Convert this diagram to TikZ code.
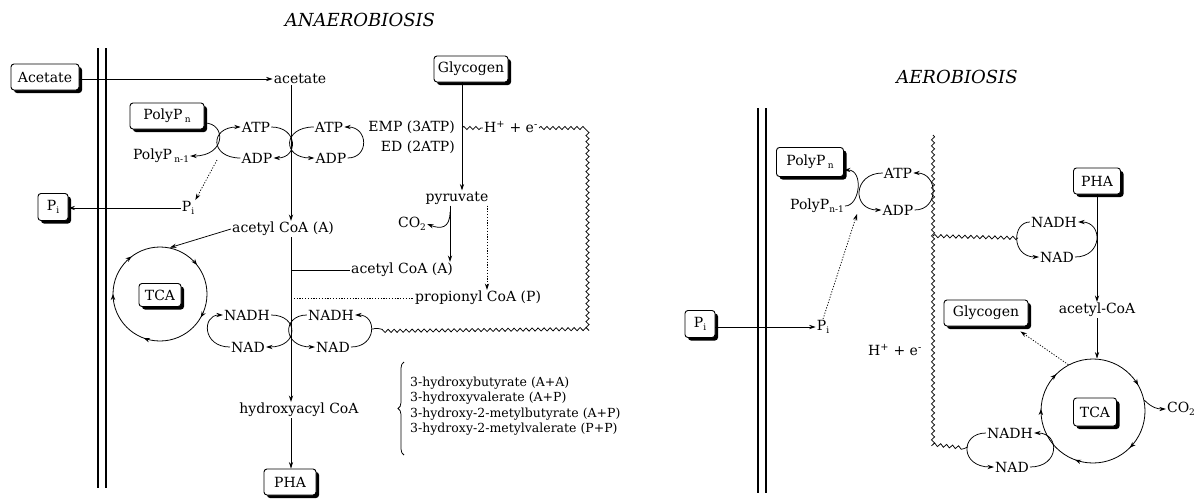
\documentclass[tikz,border=0pt]{standalone}
\usepackage{fontspec}
\setmainfont{DejaVu Serif}
\usetikzlibrary{arrows.meta,shadows,decorations.pathmorphing,decorations.pathreplacing,decorations.markings}
\newcommand{\sbs}[1]{\raisebox{-0.45ex}{\fontsize{9}{9}\selectfont #1}}
\begin{document}
\begin{tikzpicture}[x=1pt,y=-1pt,
  every node/.style={font=\fontsize{14}{16}\selectfont, inner sep=1pt},
  box/.style={draw, line width=0.9pt, rounded corners=3pt, fill=white, inner sep=2pt, minimum height=26pt,
    drop shadow={shadow xshift=3pt, shadow yshift=-3pt, fill=black, opacity=1}},
  ttl/.style={font=\fontsize{18}{20}\selectfont\itshape},
  ln/.style={line width=0.75pt},
  arr/.style={ln, -{Stealth[length=6.5pt,width=4.2pt]}},
  dotln/.style={ln, dash pattern=on 1.2pt off 1.6pt},
  dotarr/.style={arr, dash pattern=on 1.2pt off 1.6pt},
  wavy/.style={ln, decorate, decoration={snake, segment length=6pt, amplitude=1.6pt}},
  mem/.style={line width=2.6pt},
  ring/.style={circle, draw, line width=0.8pt, inner sep=0pt},
  ringA/.style={postaction={decorate, decoration={markings,
    mark=at position 0.106 with {\arrowreversed{Stealth[length=6pt,width=4.5pt]}},
    mark=at position 0.353 with {\arrowreversed{Stealth[length=6pt,width=4.5pt]}},
    mark=at position 0.5 with {\arrowreversed{Stealth[length=6pt,width=4.5pt]}},
    mark=at position 0.694 with {\arrowreversed{Stealth[length=6pt,width=4.5pt]}},
    mark=at position 0.917 with {\arrowreversed{Stealth[length=6pt,width=4.5pt]}}}}},
  ringB/.style={postaction={decorate, decoration={markings,
    mark=at position 0.083 with {\arrowreversed{Stealth[length=6pt,width=4.5pt]}},
    mark=at position 0.375 with {\arrowreversed{Stealth[length=6pt,width=4.5pt]}},
    mark=at position 0.494 with {\arrowreversed{Stealth[length=6pt,width=4.5pt]}},
    mark=at position 0.694 with {\arrowreversed{Stealth[length=6pt,width=4.5pt]}},
    mark=at position 0.875 with {\arrowreversed{Stealth[length=6pt,width=4.5pt]}}}}}
]
\useasboundingbox (0,0) rectangle (1204,501);

% ================= ANAEROBIOSIS =================
\node[ttl] (t1) at (360,20) {ANAEROBIOSIS};
\coordinate (m1t) at (98,48); \coordinate (m1b) at (98,488);
\coordinate (m2t) at (106,48); \coordinate (m2b) at (106,488);
\draw[mem] (m1t) -- (m1b);
\draw[mem] (m2t) -- (m2b);

\node[box, minimum width=68pt] (acetbox) at (45,77) {Acetate};
\node (acet) at (300,79) {acetate};
\draw[arr] (acetbox.east |- acet.west) -- (acet.west);

\coordinate (mx) at (291,0);
\node (aca1) at (283,229) {acetyl CoA (A)};
\draw[arr] (acet.south -| mx) -- (aca1.north -| mx);

\node[anchor=west] (aca2) at (350,270) {acetyl CoA (A)};
\node[anchor=west] (prop) at (414,298) {propionyl CoA (P)};
\draw[ln] (aca2.west -| mx) -- (aca2.west);
\draw[dotln] (prop.west -| mx) -- (prop.west);

\node (hac) at (299,410) {hydroxyacyl CoA};
\node[box, minimum width=52pt] (pha1) at (290,482) {PHA};
\draw[arr] (aca1.south -| mx) -- (hac.north -| mx);
\draw[arr] (hac.south -| mx) -- (pha1.north -| mx);

% PolyP / ATP
\node[box, minimum width=74pt] (ppn1) at (167,116) {PolyP\,\sbs{n}};
\node (ppm1) at (161,156) {PolyP\,\sbs{n-1}};
\node (atpA) at (256,127) {ATP};
\node (adpA) at (257,158) {ADP};
\node (atpB) at (329,127) {ATP};
\node (adpB) at (331,158) {ADP};
\node[anchor=east] (emp) at (456,127) {EMP (3ATP)};
\node[anchor=east] (ed) at (456,147) {ED (2ATP)};

\draw[arr] ([yshift=-7pt]ppn1.east) .. controls +(22,0) and +(36,0) .. (ppm1.east);
\draw[arr] (adpA.west) .. controls +(-31,0) and +(-31,0) .. (atpA.west);
\draw[arr] (atpA.east) .. controls +(27,0) and +(25,0) .. (adpA.east);
\draw[arr] (atpB.west) .. controls +(-31,0) and +(-33,0) .. (adpB.west);
\draw[arr] (adpB.east) .. controls +(22,0) and +(24,0) .. (atpB.east);

\coordinate (xA) at (217,160);
\node (piA) at (188,208) {P\sbs{i}};
\draw[dotarr] (xA) -- (piA.north east);
\node[box, minimum width=30pt, minimum height=27pt] (piboxA) at (53,207) {P\sbs{i}};
\draw[arr] (piA.west) -- (piA.west -| piboxA.east);

% TCA left
\node[ring, minimum size=94pt, ringA] (tcaA) at (160,294) {};
\node[box, minimum width=42pt, minimum height=23pt] (tcaboxA) at (160,295) {TCA};
\draw[arr] (aca1.west) -- (tcaA.78);

% NADH left
\node (nadhA) at (247,315) {NADH};
\node (nadA) at (248,347) {NAD};
\node (nadhB) at (331,315) {NADH};
\node (nadB) at (333,347) {NAD};
\draw[arr] (nadhA.east) .. controls +(28,0) and +(33,0) .. (nadA.east);
\draw[arr] (nadhB.west) .. controls +(-25,0) and +(-33,0) .. (nadB.west);
\draw[arr] (nadB.east) .. controls +(26,0) and +(22,0) .. (nadhB.east);
\draw[arr] (nadA.west) .. controls +(-28,0) and +(-21,0) .. (nadhA.west);

% Glycogen branch
\node[box, minimum width=74pt] (glyA) at (471,69) {Glycogen};
\coordinate (gx) at (462,0);
\coordinate (px1) at (450,0);
\coordinate (px2) at (487,0);
\node (pyr) at (457,198) {pyruvate};
\draw[arr] (glyA.south -| gx) -- (pyr.north -| gx);
\draw[arr] (pyr.south -| px1) -- (aca2.north -| px1);
\draw[dotarr] (pyr.south -| px2) -- (prop.north -| px2);
\node (co2A) at (412,224) {CO\sbs{2}};
\coordinate (cA) at (450,212);
\draw[arr] (cA) .. controls (450,229) and (440,229) .. (co2A.east);

% wavy electron line
\node (heA) at (511,127) {H\textsuperscript{+} + e\textsuperscript{-}};
\coordinate (wA0) at (462,128);
\coordinate (wA1) at (585,128);
\coordinate (wA2) at (585,327);
\coordinate (wA3) at (372,329);
\draw[wavy] (wA0) -- (heA.west |- wA0);
\draw[wavy] (heA.east |- wA0) -- (wA1) -- (wA2) -- (wA3);

% brace + products
\coordinate (brB) at (404,455);
\coordinate (brT) at (404,362);
\draw[ln, decorate, decoration={brace, amplitude=6pt}] (brB) -- (brT);
\begin{scope}[every node/.style={anchor=west, inner sep=0pt, font=\fontsize{12.5}{14}\selectfont}]
\node (h1) at (410,383) {3-hydroxybutyrate (A+A)};
\node (h2) at (410,398) {3-hydroxyvalerate (A+P)};
\node (h3) at (410,414) {3-hydroxy-2-metylbutyrate (A+P)};
\node (h4) at (410,429) {3-hydroxy-2-metylvalerate (P+P)};
\end{scope}

% ================= AEROBIOSIS =================
\node[ttl] (t2) at (957,77) {AEROBIOSIS};
\coordinate (n1t) at (758,108); \coordinate (n1b) at (758,493);
\coordinate (n2t) at (766,108); \coordinate (n2b) at (766,493);
\draw[mem] (n1t) -- (n1b);
\draw[mem] (n2t) -- (n2b);

\node[box, minimum width=67pt, minimum height=29pt] (ppnB) at (810,162) {PolyP\,\sbs{n}};
\node (ppm1B) at (817,206) {PolyP\sbs{n-1}};
\node (atpC) at (898,173) {ATP};
\node (adpC) at (898,210) {ADP};
\draw[arr] (atpC.west) .. controls +(-30,0) and +(-30,0) .. (adpC.west);
\draw[arr] (ppm1B.east) .. controls +(15,0) and +(20,0) .. ([yshift=-8pt]ppnB.east);
\draw[arr] (adpC.east) .. controls +(25,0) and +(25,0) .. (atpC.east);

\node (piB) at (823,327) {P\sbs{i}};
\coordinate (xB) at (857,214);
\draw[dotarr] (piB.north) -- (xB);
\node[box, minimum width=30pt, minimum height=27pt] (piboxB) at (700,324) {P\sbs{i}};
\draw[arr] (piboxB.east |- piB.west) -- (piB.west);

\coordinate (wB0) at (933,135);
\coordinate (wB1) at (933,443);
\coordinate (wB2) at (968,447);
\coordinate (wB3) at (933,236);
\coordinate (wB4) at (1018,238);
\draw[wavy] (wB0) -- (wB1) -- (wB2);
\draw[wavy] (wB3) -- (wB4);
\node (heB) at (895,350) {H\textsuperscript{+} + e\textsuperscript{-}};

\node (nadhC) at (1054,222) {NADH};
\node (nadC) at (1057,257) {NAD};
\draw[arr] (nadhC.west) .. controls +(-18,0) and +(-28,0) .. (nadC.west);
\draw[arr] (nadC.east) .. controls +(28,0) and +(25,0) .. (nadhC.east);

\node[box, minimum width=47pt, minimum height=26pt] (phaB) at (1097,181) {PHA};
\coordinate (vx) at (1097,0);
\node (aca3) at (1097,310) {acetyl-CoA};
\draw[arr] (phaB.south -| vx) -- (aca3.north -| vx);

\node[ring, minimum size=104pt, ringB] (tcaB) at (1093,411) {};
\node[box, minimum width=43pt, minimum height=28pt] (tcaboxB) at (1095,412) {TCA};
\draw[arr] (aca3.south -| vx) -- (tcaB.north -| vx);

\node (co2B) at (1181,409) {CO\sbs{2}};
\draw[arr] (tcaB.12) .. controls +(8,8) and +(-8,0) .. (co2B.west);

\node[box, minimum width=84pt, minimum height=26pt] (glyB) at (986,313) {Glycogen};
\draw[dotarr] (tcaB.118) -- ([xshift=-8pt,yshift=-5pt]glyB.south east);

\node (nadhD) at (1010,433) {NADH};
\node (nadD) at (1012,467) {NAD};
\draw[arr] (nadhD.west) .. controls +(-26,0) and +(-34,0) .. (nadD.west);
\draw[arr] (nadD.east) .. controls +(30,0) and +(26,0) .. (nadhD.east);
\end{tikzpicture}
\end{document}
